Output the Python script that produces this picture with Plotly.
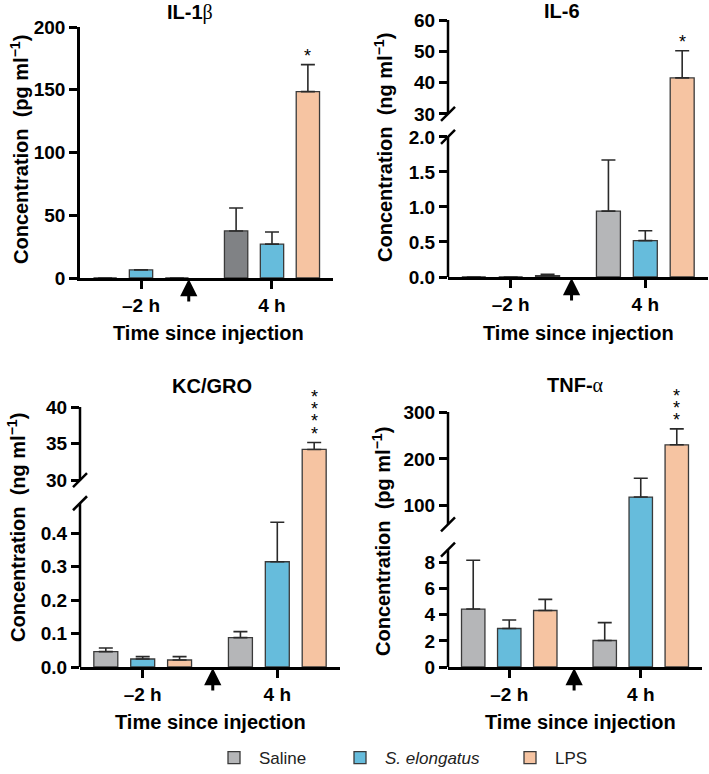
import plotly.graph_objects as go

# ---------------- data ----------------
series = ["Saline", "S. elongatus", "LPS"]
time_labels = ["–2 h", "4 h"]

il1b_mean = {"Saline": [0, 37.5], "S. elongatus": [6.5, 27], "LPS": [0, 148.5]}
il1b_err = {"Saline": [0, 18.3], "S. elongatus": [0, 9.6], "LPS": [0, 21.5]}

il6_mean = {"Saline": [0, 0.94], "S. elongatus": [0, 0.52], "LPS": [0.02, 41.5]}
il6_err = {"Saline": [0, 0.73], "S. elongatus": [0, 0.14], "LPS": [0.02, 8.7]}

kc_mean = {"Saline": [0.046, 0.088], "S. elongatus": [0.024, 0.315], "LPS": [0.021, 34.2]}
kc_err = {"Saline": [0.011, 0.018], "S. elongatus": [0.007, 0.118], "LPS": [0.01, 0.95]}

tnf_mean = {"Saline": [4.44, 2.03], "S. elongatus": [2.95, 118.5], "LPS": [4.33, 230]}
tnf_err = {"Saline": [3.74, 1.37], "S. elongatus": [0.65, 40], "LPS": [0.85, 34]}

il1b_ticks = [0, 50, 100, 150, 200]
il6_ticks = [0, 0.5, 1.0, 1.5, 2.0, 30, 40, 50, 60]
il6_ticktext = ["0.0", "0.5", "1.0", "1.5", "2.0", "30", "40", "50", "60"]
kc_ticks = [0, 0.1, 0.2, 0.3, 0.4, 30, 35, 40]
kc_ticktext = ["0.0", "0.1", "0.2", "0.3", "0.4", "30", "35", "40"]
tnf_ticks = [0, 2, 4, 6, 8, 100, 200, 300]
tnf_ticktext = ["0", "2", "4", "6", "8", "100", "200", "300"]

stars = ["*", "*", "****", "***"]

# ---------------- styling ----------------
colors = {"Saline": "#b5b6b8", "S. elongatus": "#66bcdc", "LPS": "#f6c4a2"}
dark_saline = "#808285"
edge = "#3a3a3a"
FONT = "Liberation Sans"
legend_names = {"Saline": "Saline", "S. elongatus": "<i>S. elongatus</i>", "LPS": "LPS"}
legend_ids = {"Saline": "legend", "S. elongatus": "legend2", "LPS": "legend3"}
legend_left_px = {"Saline": 209, "S. elongatus": 335, "LPS": 505}

slot = {"Saline": 0, "S. elongatus": 1, "LPS": 2}
group_start = [0.0, 3.65]
bar_w = 0.65
xr = [-0.7, 6.35]

panels = [
    dict(title="IL-1<span style='font-family:Liberation Serif;font-weight:normal'>β</span>",
         unit="pg", mean=il1b_mean, err=il1b_err, ticks=il1b_ticks,
         ticktext=[str(t) for t in il1b_ticks], brk=None, top=200,
         xd=[80, 333], yd=[27, 278], arrow=2.33,
         title_xy=(190, 12), ytitle_xy=(19, 150), xtitle_xy=(208, 333)),
    dict(title="IL-6", unit="ng", mean=il6_mean, err=il6_err, ticks=il6_ticks,
         ticktext=il6_ticktext, brk=dict(low=2.0, hi=30, gap=0.329, scale=0.0447), top=60,
         xd=[448, 708], yd=[20, 277], arrow=2.65,
         title_xy=(562, 11), ytitle_xy=(383, 148), xtitle_xy=(578, 333)),
    dict(title="KC/GRO", unit="ng", mean=kc_mean, err=kc_err, ticks=kc_ticks,
         ticktext=kc_ticktext, brk=dict(low=0.49, hi=30, gap=0.069, scale=0.0219), top=40,
         xd=[80, 340], yd=[407, 667], arrow=2.9,
         title_xy=(212, 386), ytitle_xy=(16, 528), xtitle_xy=(210, 722)),
    dict(title="TNF-<span style='font-family:Liberation Serif;font-weight:normal'>α</span>",
         unit="pg", mean=tnf_mean, err=tnf_err, ticks=tnf_ticks,
         ticktext=tnf_ticktext, brk=dict(low=9, hi=60, gap=1.92, scale=0.0359), top=300,
         xd=[448, 702], yd=[412, 667], arrow=2.8,
         title_xy=(575, 385), ytitle_xy=(381, 542), xtitle_xy=(580, 722)),
]

W, H = 709, 774


def T(v, brk):
    if brk is None or v <= brk["low"]:
        return v
    return brk["low"] + brk["gap"] + (v - brk["hi"]) * brk["scale"]


fig = go.Figure()
shapes = []
annotations = []

for i, p in enumerate(panels):
    n = i + 1
    xa = "x" if n == 1 else f"x{n}"
    ya = "y" if n == 1 else f"y{n}"
    brk = p["brk"]
    for s in series:
        xs = [g + slot[s] for g in group_start]
        ys = [T(v, brk) for v in p["mean"][s]]
        up = [T(v + e, brk) - T(v, brk) for v, e in zip(p["mean"][s], p["err"][s])]
        cols = [colors[s], colors[s]]
        if n == 1 and s == "Saline":
            cols = [colors[s], dark_saline]
        fig.add_trace(go.Bar(
            x=xs, y=ys, width=bar_w, name=legend_names[s],
            legendgroup=s, showlegend=(n == 4), legend=legend_ids[s],
            marker=dict(color=cols, line=dict(color=edge, width=1.3)),
            error_y=dict(type="data", symmetric=False, array=up, arrayminus=[0, 0],
                         color="#2a2a2a", thickness=1.6, width=7),
            xaxis=xa, yaxis=ya, hoverinfo="skip",
        ))

    x0, x1 = p["xd"][0] / W, p["xd"][1] / W
    y0, y1 = 1 - p["yd"][1] / H, 1 - p["yd"][0] / H
    top_t = T(p["top"], brk)
    axkey = "xaxis" if n == 1 else f"xaxis{n}"
    aykey = "yaxis" if n == 1 else f"yaxis{n}"
    fig.layout[axkey] = dict(
        domain=[x0, x1], range=xr, anchor=ya, showgrid=False, zeroline=False,
        automargin=False,
        showline=True, linecolor="black", linewidth=2.5,
        tickmode="array", tickvals=[group_start[0] + 1, group_start[1] + 1],
        ticktext=time_labels, ticks="outside", ticklen=8, tickwidth=2.5, tickcolor="black",
        tickfont=dict(family=FONT, size=19, color="black", weight="bold"), fixedrange=True,
    )
    fig.layout[aykey] = dict(
        domain=[y0, y1], range=[0, top_t], anchor=xa, showgrid=False, zeroline=False,
        automargin=False,
        showline=(brk is None), linecolor="black", linewidth=2.5,
        tickmode="array", tickvals=[T(t, brk) for t in p["ticks"]], ticktext=p["ticktext"],
        ticks="outside", ticklen=8, tickwidth=2.5, tickcolor="black",
        tickfont=dict(family=FONT, size=19, color="black", weight="bold"), fixedrange=True,
    )

    if brk is not None:
        segs = [(0, brk["low"]), (T(brk["hi"], brk), top_t)]
        for a, b in segs:
            shapes.append(dict(type="line", xref=f"{xa} domain", yref=ya, x0=0, x1=0,
                               y0=a, y1=b, line=dict(color="black", width=2.5)))
        for yv in [brk["low"], T(brk["hi"], brk)]:
            shapes.append(dict(type="line", xref=f"{xa} domain", yref=ya,
                               xsizemode="pixel", xanchor=0, x0=-7, x1=7,
                               ysizemode="pixel", yanchor=yv, y0=-7, y1=7,
                               line=dict(color="black", width=2.5)))

    # injection arrow
    annotations.append(dict(x=p["arrow"], y=0, xref=xa, yref=ya, text="", showarrow=True,
                            ax=0, ay=25, arrowhead=2, arrowsize=1.15, arrowwidth=3,
                            arrowcolor="black", standoff=1))

    # significance stars above LPS 4h (stacked, tight line spacing)
    lps_top = T(p["mean"]["LPS"][1] + p["err"]["LPS"][1], brk)
    star_txt = "<br>".join("<span style='font-size:18px'>*</span>" for _ in stars[i])
    annotations.append(dict(x=group_start[1] + 2, y=lps_top, xref=xa, yref=ya,
                            text=star_txt, showarrow=False, yanchor="bottom",
                            yshift=-2, borderpad=0,
                            font=dict(family=FONT, size=9.4, color="black")))

    # titles
    tx, ty = p["title_xy"]
    annotations.append(dict(x=tx / W, y=1 - ty / H, xref="paper", yref="paper",
                            xanchor="center", yanchor="middle",
                            text=f"<b>{p['title']}</b>", showarrow=False,
                            font=dict(family=FONT, size=20, color="black")))
    yx, yy = p["ytitle_xy"]
    annotations.append(dict(x=yx / W, y=1 - yy / H, xref="paper", yref="paper",
                            xanchor="center", yanchor="middle",
                            text=f"<b>Concentration&nbsp; ({p['unit']} ml<sup>−1</sup>)</b>",
                            textangle=-90, showarrow=False,
                            font=dict(family=FONT, size=20, color="black")))
    xx, xy = p["xtitle_xy"]
    annotations.append(dict(x=xx / W, y=1 - xy / H, xref="paper", yref="paper",
                            xanchor="center", yanchor="middle",
                            text="<b>Time since injection</b>", showarrow=False,
                            font=dict(family=FONT, size=20, color="black")))

legend_style = dict(orientation="h", xanchor="left", y=1 - 758 / H, yanchor="middle",
                    font=dict(family=FONT, size=17, color="#222"), itemwidth=40,
                    bgcolor="rgba(0,0,0,0)")

fig.update_layout(
    template="none",
    width=W, height=H, margin=dict(l=0, r=0, t=0, b=0, autoexpand=False),
    paper_bgcolor="white", plot_bgcolor="white", barmode="overlay",
    shapes=shapes, annotations=annotations,
    legend=dict(legend_style, x=legend_left_px["Saline"] / W),
    legend2=dict(legend_style, x=legend_left_px["S. elongatus"] / W),
    legend3=dict(legend_style, x=legend_left_px["LPS"] / W),
    showlegend=True,
)

fig.write_html("out.html", config={"displayModeBar": False},
               post_script="document.body.style.margin='0';")
